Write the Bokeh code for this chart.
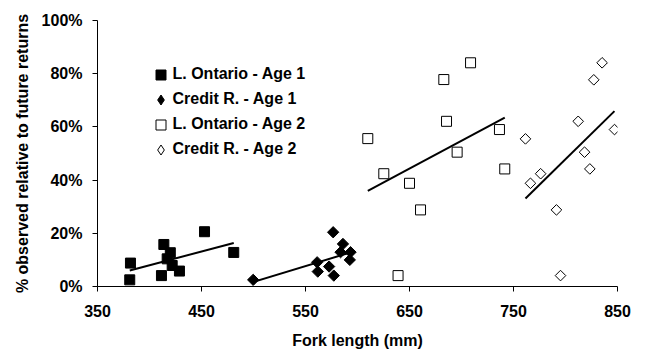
import numpy as np
from bokeh.plotting import figure
from bokeh.models import Legend, LegendItem, NumeralTickFormatter, FixedTicker, Range1d
from bokeh.embed import file_html
from bokeh.resources import INLINE

# ---- data (fork length in mm, % observed relative to future returns) ----
lo1_x = [381.7, 381.0, 413.8, 420.0, 417.0, 421.8, 428.8, 411.5, 452.9, 481.0]
lo1_y = [8.8, 2.5, 15.8, 12.7, 10.4, 7.9, 5.8, 4.1, 20.6, 12.8]

cr1_x = [499.7, 561.2, 561.8, 572.7, 577.2, 576.6, 586.0, 583.7, 593.3, 592.6]
cr1_y = [2.5, 9.1, 5.6, 7.5, 4.1, 20.4, 16.0, 12.9, 12.9, 10.0]

lo2_x = [708.7, 683.0, 685.6, 609.9, 736.5, 695.8, 741.6, 625.3, 650.0, 660.6, 639.0]
lo2_y = [84.1, 77.8, 62.1, 55.6, 59.0, 50.5, 44.2, 42.4, 38.8, 28.8, 4.1]

cr2_x = [835.2, 827.2, 812.2, 761.5, 847.1, 818.3, 823.4, 776.1, 766.3, 791.3, 795.2]
cr2_y = [84.1, 77.7, 62.1, 55.5, 59.0, 50.5, 44.2, 42.4, 38.8, 28.8, 4.1]

labels = ["L. Ontario - Age 1", "Credit R. - Age 1", "L. Ontario - Age 2", "Credit R. - Age 2"]
x_ticks = [350, 450, 550, 650, 750, 850]
y_ticks = [0, 0.2, 0.4, 0.6, 0.8, 1.0]

FONT = "Liberation Sans"
FS = "16px"

p = figure(width=649, height=353, output_backend="svg", toolbar_location=None,
           x_range=Range1d(350, 850), y_range=Range1d(0, 1),
           min_border_left=97, min_border_right=32, min_border_top=20, min_border_bottom=67,
           x_axis_label="Fork length (mm)", y_axis_label="% observed relative to future returns")
p.outline_line_color = None
p.grid.visible = False
p.background_fill_color = "white"
p.border_fill_color = "white"

for ax in (p.xaxis[0], p.yaxis[0]):
    ax.axis_line_color = "black"
    ax.axis_line_width = 1
    ax.major_tick_line_color = "black"
    ax.major_tick_out = 5
    ax.major_tick_in = 0
    ax.minor_tick_line_color = None
    ax.major_label_text_font = FONT
    ax.major_label_text_font_size = FS
    ax.major_label_text_font_style = "bold"
    ax.major_label_text_color = "black"
    ax.axis_label_text_font = FONT
    ax.axis_label_text_font_size = FS
    ax.axis_label_text_font_style = "bold"
    ax.axis_label_text_color = "black"
    ax.major_label_standoff = 10

p.xaxis[0].ticker = FixedTicker(ticks=x_ticks)
p.yaxis[0].ticker = FixedTicker(ticks=y_ticks)
p.yaxis[0].formatter = NumeralTickFormatter(format="0%")
p.xaxis[0].major_label_standoff = 13
p.xaxis[0].axis_label_standoff = 12
p.yaxis[0].axis_label_standoff = 8

def fit_line(xs, ys):
    xs = np.asarray(xs, float)
    ys = np.asarray(ys, float) / 100.0
    k, b = np.polyfit(xs, ys, 1)
    x0, x1 = xs.min(), xs.max()
    return [x0, x1], [k * x0 + b, k * x1 + b]

for xs, ys in ((lo1_x, lo1_y), (cr1_x, cr1_y), (lo2_x, lo2_y), (cr2_x, cr2_y)):
    lx, ly = fit_line(xs, ys)
    p.line(lx, ly, line_color="black", line_width=2)

def pct(v):
    return [a / 100.0 for a in v]

r1 = p.scatter(lo1_x, pct(lo1_y), marker="square", size=10, fill_color="black", line_color="black")
p.scatter(cr1_x, pct(cr1_y), marker="square", angle=np.pi / 4, size=8,
          fill_color="black", line_color="black")
r3 = p.scatter(lo2_x, pct(lo2_y), marker="square", size=10, fill_color="white", line_color="black",
               line_width=1)
p.scatter(cr2_x, pct(cr2_y), marker="square", angle=np.pi / 4, size=7.5,
          fill_color="white", line_color="black", line_width=1)

# hidden diamond renderers used only as legend swatches (legend glyphs are never rotated)
r2 = p.scatter(cr1_x, pct(cr1_y), marker="diamond", size=10, fill_color="black",
               line_color="black", visible=False)
r4 = p.scatter(cr2_x, pct(cr2_y), marker="diamond", size=10, fill_color="white",
               line_color="black", line_width=1, visible=False)

legend = Legend(items=[LegendItem(label=labels[0], renderers=[r1]),
                       LegendItem(label=labels[1], renderers=[r2]),
                       LegendItem(label=labels[2], renderers=[r3]),
                       LegendItem(label=labels[3], renderers=[r4])],
                location=(50.5, 124.5))
legend.border_line_color = None
legend.background_fill_alpha = 0
legend.inactive_fill_alpha = 0
legend.padding = 0
legend.margin = 0
legend.spacing = 0
legend.glyph_width = 25
legend.glyph_height = 25
legend.label_standoff = 0
legend.label_height = 20
legend.label_text_font = FONT
legend.label_text_font_size = FS
legend.label_text_font_style = "bold"
legend.label_text_color = "black"
p.add_layout(legend)

open("out.html", "w").write(file_html(p, INLINE))
